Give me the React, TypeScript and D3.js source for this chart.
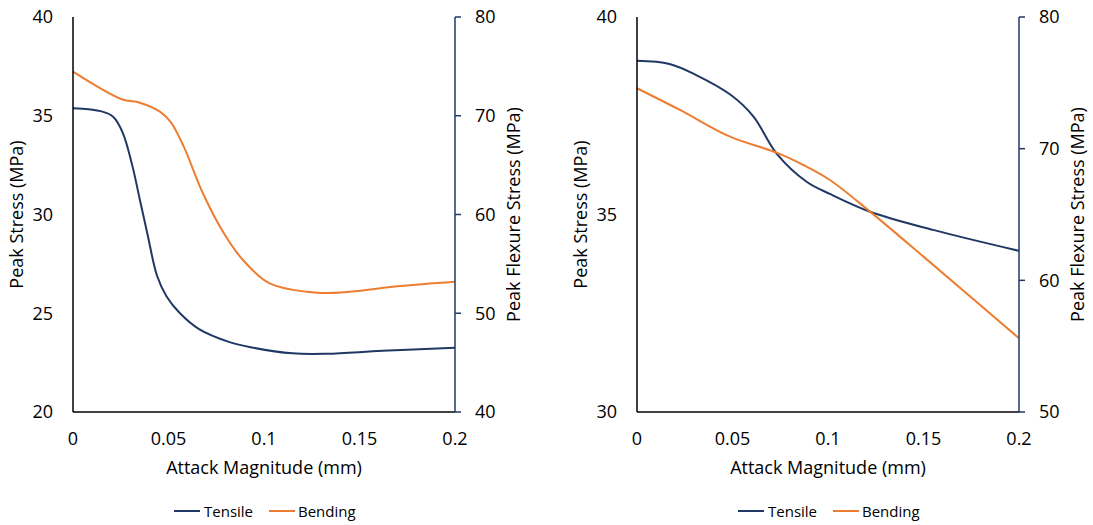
import React from "react";
import * as d3 from "d3";

// ---------- Data ----------
const xTicks = [0, 0.05, 0.1, 0.15, 0.2];

// Left chart
const leftTensileX = [0, 0.015, 0.021, 0.026, 0.031, 0.035, 0.039, 0.044, 0.049, 0.056, 0.066, 0.082, 0.093, 0.115, 0.133, 0.162, 0.2];
const leftTensileY = [35.38, 35.22, 34.95, 34.15, 32.5, 30.75, 29.0, 26.9, 25.85, 25.0, 24.2, 23.54, 23.28, 22.97, 22.95, 23.1, 23.25];
const leftBendingX = [0, 0.0255, 0.035, 0.0455, 0.051, 0.058, 0.068, 0.079, 0.089, 0.103, 0.128, 0.145, 0.171, 0.2];
const leftBendingY = [74.46, 71.67, 71.32, 70.41, 69.4, 66.87, 62.15, 58.1, 55.39, 53.03, 52.08, 52.18, 52.76, 53.2];
const leftYTicks = [20, 25, 30, 35, 40];
const leftY2Ticks = [40, 50, 60, 70, 80];

// Right chart
const rightTensileX = [0, 0.017, 0.031, 0.049, 0.061, 0.073, 0.0888, 0.101, 0.122, 0.155, 0.2];
const rightTensileY = [38.89, 38.81, 38.53, 38.03, 37.48, 36.55, 35.83, 35.52, 35.07, 34.61, 34.08];
const rightBendingX = [0, 0.0225, 0.0487, 0.0731, 0.0871, 0.101, 0.122, 0.15, 0.2];
const rightBendingY = [74.59, 72.94, 70.91, 69.7, 68.76, 67.62, 65.22, 61.8, 55.6];
const rightYTicks = [30, 35, 40];
const rightY2Ticks = [50, 60, 70, 80];

const seriesNames = ["Tensile", "Bending"];

// ---------- Styles ----------
const NAVY = "#1f3864";
const ORANGE = "#ed7d31";
const FONT = "'Open Sans', 'Noto Sans', sans-serif";
const FS = 18;

type PanelProps = {
  x0: number;
  tX: number[]; tY: number[];
  bX: number[]; bY: number[];
  yDomain: [number, number]; y2Domain: [number, number];
  yTicks: number[]; y2Ticks: number[];
};

function Panel({ x0, tX, tY, bX, bY, yDomain, y2Domain, yTicks, y2Ticks }: PanelProps) {
  const top = 17, bottom = 412, width = 382;
  const x = d3.scaleLinear().domain([0, 0.2]).range([x0, x0 + width]);
  const y = d3.scaleLinear().domain(yDomain).range([bottom, top]);
  const y2 = d3.scaleLinear().domain(y2Domain).range([bottom, top]);
  const line = d3.line<[number, number]>().x(d => d[0]).y(d => d[1]).curve(d3.curveCatmullRom.alpha(0.5));
  const tPts: [number, number][] = tX.map((v, i) => [x(v), y(tY[i])]);
  const bPts: [number, number][] = bX.map((v, i) => [x(v), y2(bY[i])]);
  const right = x0 + width;
  const midY = (top + bottom) / 2;
  const fmt = (v: number) => String(v);
  return (
    <g>
      <path d={line(tPts) || ""} fill="none" stroke={NAVY} strokeWidth={2} />
      <path d={line(bPts) || ""} fill="none" stroke={ORANGE} strokeWidth={2} />
      <line x1={x0} x2={x0} y1={top} y2={bottom} stroke="#000" strokeWidth={1.5} />
      <line x1={x0} x2={right} y1={bottom} y2={bottom} stroke="#000" strokeWidth={1.5} />
      <line x1={right} x2={right} y1={top} y2={bottom} stroke={NAVY} strokeWidth={1.5} />
      {y2Ticks.map(t => (
        <line key={"t2" + t} x1={right} x2={right + 6} y1={y2(t)} y2={y2(t)} stroke={NAVY} strokeWidth={1.5} />
      ))}
      {yTicks.map(t => (
        <text key={"yl" + t} x={x0 - 20} y={y(t)} dy="0.35em" textAnchor="end" fontSize={FS} fontFamily={FONT} fill="#000">{fmt(t)}</text>
      ))}
      {y2Ticks.map(t => (
        <text key={"y2l" + t} x={right + 20} y={y2(t)} dy="0.35em" textAnchor="start" fontSize={FS} fontFamily={FONT} fill="#000">{fmt(t)}</text>
      ))}
      {xTicks.map(t => (
        <text key={"xl" + t} x={x(t)} y={445} textAnchor="middle" fontSize={FS} fontFamily={FONT} fill="#000">{fmt(t)}</text>
      ))}
      <text x={x0 + width / 2} y={474} textAnchor="middle" fontSize={FS} fontFamily={FONT} fill="#000">Attack Magnitude (mm)</text>
      <text transform={`translate(${x0 - 56},${midY}) rotate(-90)`} dy="0.35em" textAnchor="middle" fontSize={FS} fontFamily={FONT} fill="#000">Peak Stress (MPa)</text>
      <text transform={`translate(${right + 59},${midY}) rotate(-90)`} dy="0.35em" textAnchor="middle" fontSize={FS} fontFamily={FONT} fill="#000">Peak Flexure Stress (MPa)</text>
      <line x1={x0 + 101} x2={x0 + 127} y1={511} y2={511} stroke={NAVY} strokeWidth={2} />
      <text x={x0 + 131} y={517} fontSize={15} fontFamily={FONT} fill="#000">{seriesNames[0]}</text>
      <line x1={x0 + 196} x2={x0 + 222} y1={511} y2={511} stroke={ORANGE} strokeWidth={2} />
      <text x={x0 + 225} y={517} fontSize={15} fontFamily={FONT} fill="#000">{seriesNames[1]}</text>
    </g>
  );
}

export default function App() {
  return (
    <svg width={1093} height={525} style={{ position: "absolute", left: 0, top: 0, background: "#fff" }}>
      <rect width={1093} height={525} fill="#fff" />
      <Panel x0={73} tX={leftTensileX} tY={leftTensileY} bX={leftBendingX} bY={leftBendingY}
        yDomain={[20, 40]} y2Domain={[40, 80]} yTicks={leftYTicks} y2Ticks={leftY2Ticks} />
      <Panel x0={637} tX={rightTensileX} tY={rightTensileY} bX={rightBendingX} bY={rightBendingY}
        yDomain={[30, 40]} y2Domain={[50, 80]} yTicks={rightYTicks} y2Ticks={rightY2Ticks} />
    </svg>
  );
}
